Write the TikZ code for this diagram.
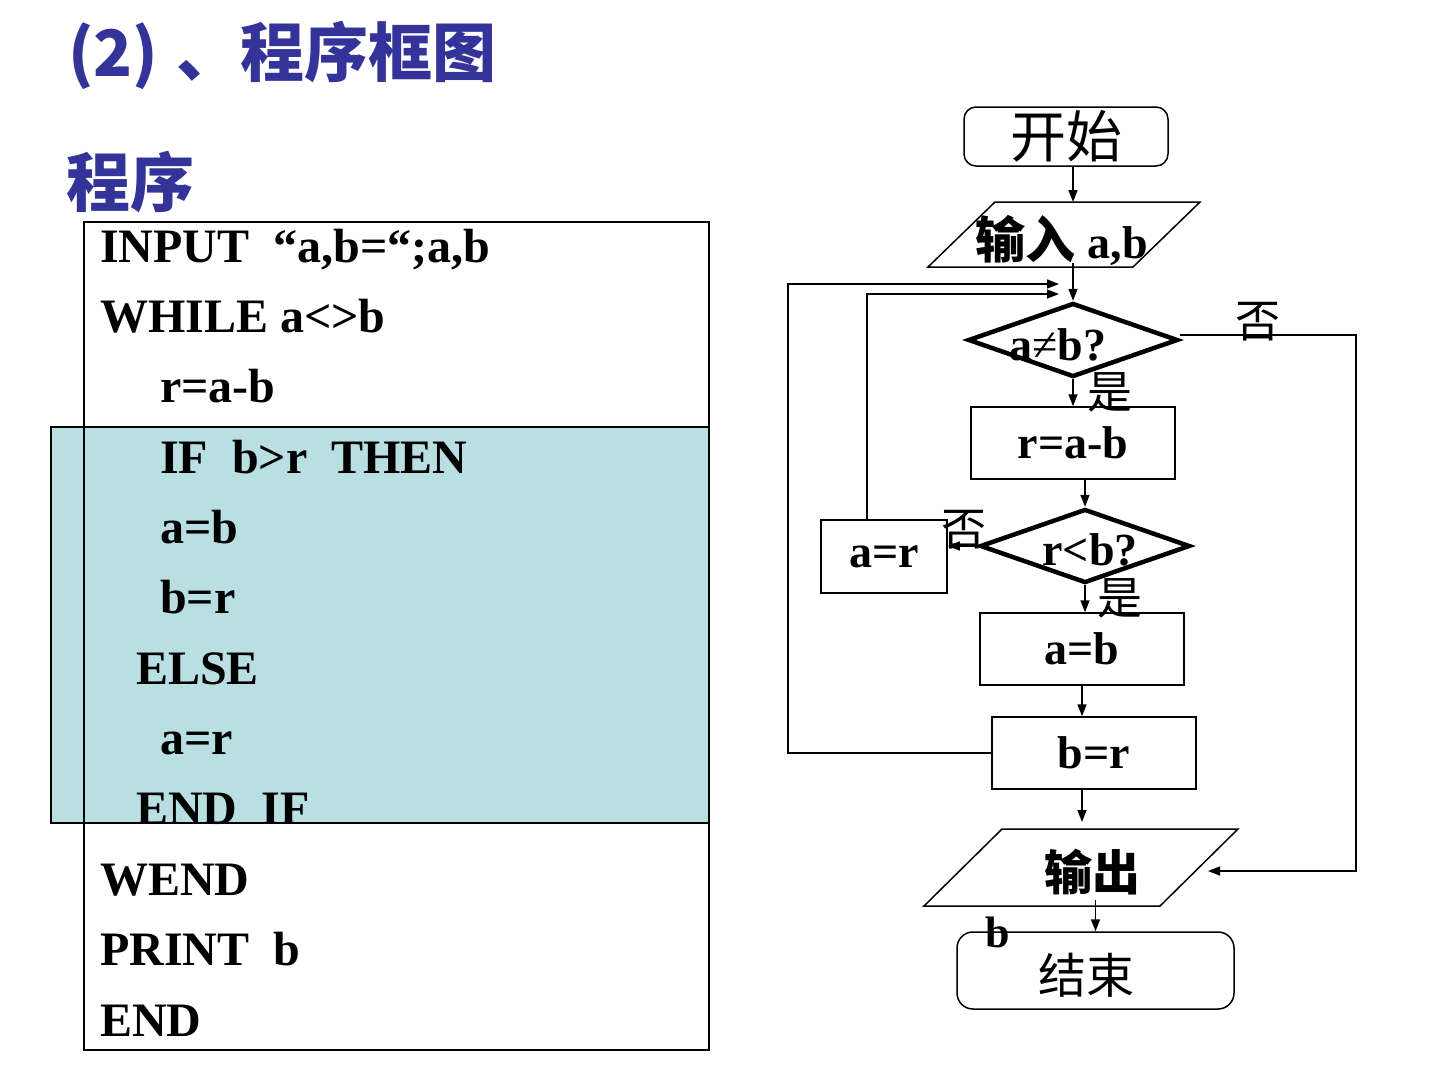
\documentclass[tikz,border=0pt]{standalone}
\usepackage{fontspec}
\setmainfont{Liberation Serif}
\newfontfamily\cjk{Noto Sans CJK SC}
\usetikzlibrary{arrows.meta,shapes.geometric}
\definecolor{titleblue}{HTML}{333399}
\definecolor{blockblue}{HTML}{BADFE3}

\begin{document}
\begin{tikzpicture}[x=1pt,y=-1pt,
  heading/.style={anchor=base west, inner sep=0, text=titleblue,
    font=\cjk\bfseries\fontsize{64}{64}\selectfont},
  code/.style={anchor=base west, inner sep=0,
    font=\fontsize{48}{48}\selectfont\bfseries},
  frame/.style={line width=1.2pt},
  proc/.style={draw, line width=1.5pt, inner sep=0, minimum width=204pt,
    minimum height=72pt, font=\fontsize{46}{46}\selectfont\bfseries},
  term/.style={draw, line width=1.5pt, inner sep=0, rounded corners=12pt},
  decision/.style={draw, diamond, line width=4.5pt, inner sep=0,
    minimum width=210pt, minimum height=74pt},
  iobox/.style={inner sep=0, outer sep=0},
  lbl/.style={inner sep=0, font=\fontsize{46}{46}\selectfont\bfseries},
  cjklbl/.style={inner sep=0, font=\cjk\fontsize{45}{45}\selectfont},
  line/.style={line width=1.5pt},
  arr/.style={line width=1.5pt, -{Triangle[length=12pt,width=9pt]}}
]
\useasboundingbox (0,0) rectangle (1440,1080);

% headings
\node[heading] (h1) at (68,76) {(2)};
\node[heading] (h2) at (176,76) {、};
\node[heading] (h3) at (240,76) {程序框图};
\node[heading] (h4) at (66,206) {程序};

% program listing with the highlighted IF block
\fill[blockblue] (51,427) rectangle (709,823);
\draw[frame] (84,222) rectangle (709,1050);
\draw[frame] (51,427) rectangle (709,823);

\node[code] (l1)  at (100,262)   {INPUT\ \ “a,b=“;a,b};
\node[code] (l2)  at (100,332.4) {WHILE a<>b};
\node[code] (l3)  at (160,402.7) {r=a-b};
\node[code] (l4)  at (160,473.1) {IF\ \ b>r\ \ THEN};
\node[code] (l5)  at (160,543.4) {a=b};
\node[code] (l6)  at (160,613.8) {b=r};
\node[code] (l7)  at (136,684.2) {ELSE};
\node[code] (l8)  at (160,754.5) {a=r};
\node[code] (l9)  at (136,824.9) {END\ \ IF};
\node[code] (l10) at (100,895.2) {WEND};
\node[code] (l11) at (100,965.6) {PRINT\ \ b};
\node[code] (l12) at (100,1036)  {END};

% flowchart shapes
\node[term, minimum width=204pt, minimum height=59pt,
      font=\cjk\fontsize{56}{56}\selectfont] (start) at (1066,136.5) {开始};

\node[iobox, minimum width=272pt, minimum height=65pt] (in) at (1064,234.5) {};
\draw[line] (in.south west) -- ([xshift=67pt]in.north west) -- (in.north east)
  -- ([xshift=-67pt]in.south east) -- cycle;
\node[inner sep=0] (intext) at (1062,240)
  {{\cjk\bfseries\fontsize{50}{50}\selectfont 输入}\hspace{12pt}{\fontsize{46}{46}\selectfont\bfseries a,b}};

\node[decision] (d1) at (1073,340) {};
\node[lbl] (d1text) at (1058,345) {a{\mdseries ≠}b?};
\node[proc] (ra) at (1073,443) {r=a-b};
\node[decision] (d2) at (1085,546) {};
\node[lbl] (d2text) at (1090,550) {r<b?};
\node[proc, minimum width=126pt, minimum height=73pt] (ar) at (884,556.5) {a=r};
\node[proc] (ab) at (1082,649) {a=b};
\node[proc] (br) at (1094,753) {b=r};

\node[iobox, minimum width=314pt, minimum height=77pt] (out) at (1081,867.5) {};
\draw[line] (out.south west) -- ([xshift=78pt]out.north west) -- (out.north east)
  -- ([xshift=-78pt]out.south east) -- cycle;
\node[inner sep=0, font=\cjk\bfseries\fontsize{48}{48}\selectfont] (outtext) at (1092,872) {输出};

\node[term, rounded corners=16pt, minimum width=277pt, minimum height=77pt] (end) at (1095.5,970.5) {};
\node[inner sep=0, font=\cjk\fontsize{48}{48}\selectfont] (endtext) at (1086,975) {结束};

% loop corners and arrow tips
\coordinate (loopA) at (788,284);
\coordinate (tipA)  at (1059,284);
\coordinate (loopB) at (867,294);
\coordinate (tipB)  at (1059,294);
\coordinate (loopC) at (1356,871);
\coordinate (tipC)  at (1208,871);

% connectors
\draw[arr] (start.south -| d1.north) -- (in.north -| d1.north);
\draw[arr] ([yshift=4pt]in.south -| d1.north) -- (d1.north);
\draw[arr] (d1.south) -- (d1.south |- ra.north);
\draw[arr] (ra.south -| d2.north) -- (d2.north);
\draw[arr] (d2.west) -- (d2.west -| ar.east);
\draw[arr] (d2.south) -- (d2.south |- ab.north);
\draw[arr] (ab.south) -- (ab.south |- br.north);
\draw[arr] (br.south -| ab.south) -- ([yshift=7pt]out.north -| ab.south);
\draw[arr] ([yshift=6pt]out.south -| end.north) -- (end.north);
\draw[arr] (br.west) -| (loopA) -- (tipA);
\draw[arr] (ar.north -| loopB) -- (loopB) -- (tipB);
\draw[arr] ([yshift=5pt]d1.east) -| (loopC) -- (tipC);

% branch labels
\node[cjklbl] (no1)  at (1258,322) {否};
\node[cjklbl] (yes1) at (1110,392) {是};
\node[cjklbl] (no2)  at (964,530)  {否};
\node[cjklbl] (yes2) at (1120,598) {是};
\node[inner sep=0, font=\fontsize{44}{44}\selectfont\bfseries] (outb) at (998,932) {b};
\end{tikzpicture}
\end{document}
